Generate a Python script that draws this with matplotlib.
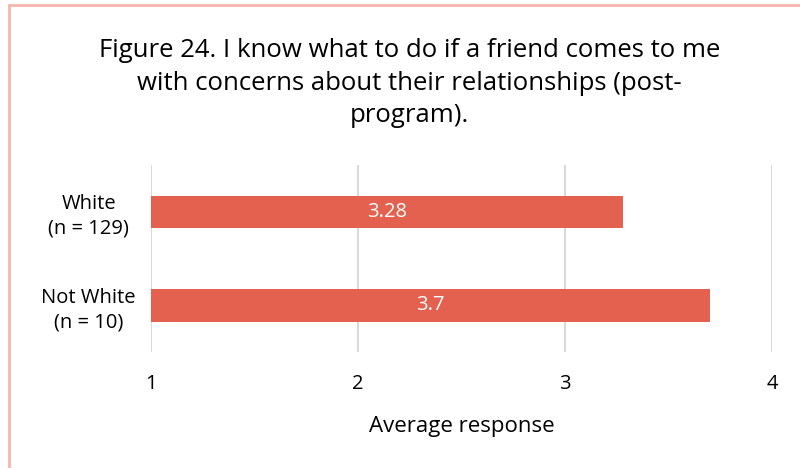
import matplotlib.pyplot as plt
from matplotlib.patches import Rectangle

plt.rcParams['font.family'] = ['Open Sans', 'DejaVu Sans']

groups = ['White\n(n = 129)', 'Not White\n(n = 10)']
values = [3.28, 3.7]
xticks = [1, 2, 3, 4]

fig = plt.figure(figsize=(8, 4.68), dpi=100)
ax = fig.add_axes([0.189, 0.248, 0.776, 0.399])

# bars start at 1 (axis minimum)
ax.barh(range(len(groups)), [v - 1 for v in values], left=1, height=0.35,
        color='#E46150', zorder=3)
for i, v in enumerate(values):
    ax.text((1 + v) / 2, i, str(v), color='white', ha='center', va='center',
            fontsize=14.5, zorder=4)

ax.set_xlim(1, 4)
ax.set_ylim(1.5, -0.5)
ax.set_xticks(xticks)
ax.set_yticks(range(len(groups)))
ax.set_yticklabels(groups, ha='center', fontsize=14.5, linespacing=1.3)
ax.tick_params(axis='y', length=0, pad=45)
ax.tick_params(axis='x', length=0, labelsize=14.5, pad=16)
ax.grid(axis='x', color='#D9D9D9', linewidth=1.5, zorder=0)
for s in ax.spines.values():
    s.set_visible(False)
ax.set_xlabel('Average response', fontsize=16, labelpad=16)

fig.text(0.512, 0.822,
         'Figure 24. I know what to do if a friend comes to me\n'
         'with concerns about their relationships (post-\nprogram).',
         ha='center', va='center', fontsize=18.5, linespacing=1.4)

fig.patches.append(Rectangle((9 / 800, -0.05), 1.0, 1 - 5 / 468 + 0.05,
                             transform=fig.transFigure, fill=False,
                             edgecolor='#F4B6AE', linewidth=2))

fig.savefig('out.png')
